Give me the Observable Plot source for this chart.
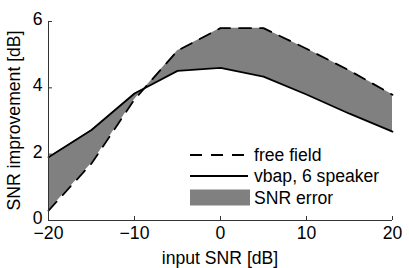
<!DOCTYPE html>
<html>
<head>
<meta charset="utf-8">
<script src="https://cdn.jsdelivr.net/npm/d3@7"></script>
<script src="https://cdn.jsdelivr.net/npm/@observablehq/plot@0.6"></script>
<style>
  html, body { margin: 0; padding: 0; background: #fff; }
  svg { font-family: "Liberation Sans", Arial, sans-serif; }
</style>
</head>
<body>
<div id="chart"></div>
<script>
const inputSNR = [-20, -15, -10, -5, 0, 5, 10, 15, 20];
const freeField = [0.3, 1.72, 3.65, 5.12, 5.8, 5.8, 5.18, 4.52, 3.79];
const vbap6 = [1.91, 2.73, 3.83, 4.51, 4.6, 4.34, 3.8, 3.22, 2.68];
const xTicks = [-20, -10, 0, 10, 20];
const yTicks = [0, 2, 4, 6];
const legendLabels = ["free field", "vbap, 6 speaker", "SNR error"];
const xLabel = "input SNR [dB]";
const yLabel = "SNR improvement [dB]";

const rows = inputSNR.map((x, i) => ({x, free: freeField[i], vbap: vbap6[i]}));
const fmt = d => d < 0 ? "\u2212" + Math.abs(d) : String(d);

const W = 409, H = 268;
const ml = 48, mr = 17, mt = 21, mb = 48;
const FS = 17.6;
const LW = 1.8;

const plot = Plot.plot({
  width: W, height: H,
  marginLeft: ml, marginRight: mr, marginTop: mt, marginBottom: mb,
  style: {fontSize: FS + "px", fontFamily: "Liberation Sans, Arial, sans-serif", color: "#000", background: "#fff"},
  x: {domain: [xTicks[0], xTicks[xTicks.length - 1]], label: null},
  y: {domain: [yTicks[0], yTicks[yTicks.length - 1]], label: null},
  marks: [
    Plot.areaY(rows, {x: "x", y1: "vbap", y2: "free", fill: "#808080", fillOpacity: 1}),
    Plot.line(rows, {x: "x", y: "free", stroke: "#000", strokeWidth: LW, strokeDasharray: "12,9"}),
    Plot.line(rows, {x: "x", y: "vbap", stroke: "#000", strokeWidth: LW}),
    Plot.ruleY([yTicks[0]], {stroke: "#333", strokeWidth: 1}),
    Plot.ruleX([xTicks[0]], {stroke: "#333", strokeWidth: 1}),
    Plot.axisX({ticks: xTicks, tickSize: -4, tickFormat: () => "", stroke: "#333", label: null}),
    Plot.axisY({ticks: yTicks, tickSize: -4, tickFormat: () => "", stroke: "#333", label: null}),
    Plot.axisX({ticks: xTicks, tickSize: 0, tickPadding: 6, tickFormat: fmt, label: null, fill: "#000", fontSize: FS}),
    Plot.axisY({ticks: yTicks, tickSize: 0, tickPadding: 6, tickFormat: fmt, label: null, fill: "#000", fontSize: FS, dy: -2})
  ]
});

const svg = d3.select(plot);
// axis titles
svg.append("text")
  .attr("x", ml + (W - ml - mr) / 2).attr("y", 264)
  .attr("text-anchor", "middle").attr("font-size", FS).attr("fill", "#000")
  .text(xLabel);
svg.append("text")
  .attr("transform", `translate(20,${mt + (H - mt - mb) / 2}) rotate(-90)`)
  .attr("text-anchor", "middle").attr("font-size", FS).attr("fill", "#000")
  .text(yLabel);

// legend
const lg = svg.append("g").attr("font-size", FS).attr("fill", "#000").attr("text-anchor", "start");
const lx0 = 190, lx1 = 248, tx = 254;
const rowsY = [155, 176, 197.5];
lg.append("line").attr("x1", lx0).attr("x2", lx1).attr("y1", rowsY[0]).attr("y2", rowsY[0])
  .attr("stroke", "#000").attr("stroke-width", LW).attr("stroke-dasharray", "12,9");
lg.append("line").attr("x1", lx0).attr("x2", lx1).attr("y1", rowsY[1]).attr("y2", rowsY[1])
  .attr("stroke", "#000").attr("stroke-width", LW);
lg.append("rect").attr("x", lx0).attr("y", rowsY[2] - 8).attr("width", lx1 - lx0 + 2).attr("height", 16)
  .attr("fill", "#808080");
legendLabels.forEach((t, i) => {
  lg.append("text").attr("x", tx).attr("y", rowsY[i]).attr("dy", "0.35em").attr("text-anchor", "start").text(t);
});

document.getElementById("chart").appendChild(plot);
</script>
</body>
</html>
